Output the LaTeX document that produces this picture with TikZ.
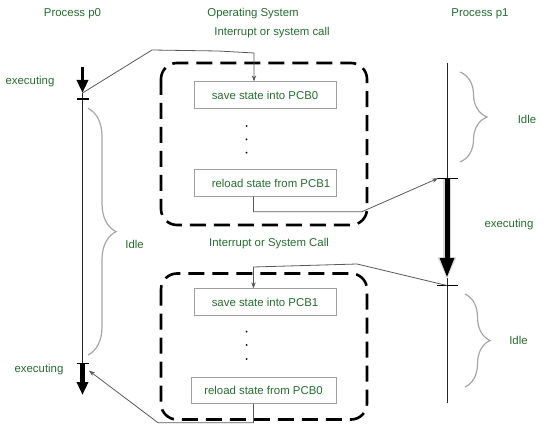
\documentclass[tikz,border=0pt]{standalone}
\usepackage{fontspec}
\setmainfont{Liberation Sans}
\usepackage{tikz}
\usetikzlibrary{arrows.meta,positioning,calc,decorations.pathreplacing}
\definecolor{labelgreen}{RGB}{38,108,48}

\begin{document}
\begin{tikzpicture}[
  x=1pt, y=-1pt,
  lbl/.style={text=labelgreen, inner sep=0pt,
    font=\fontsize{11.4}{13.7}\selectfont},
  state/.style={draw=gray!75, line width=0.8pt, inner sep=0pt,
    minimum width=142pt, minimum height=26.5pt, text=labelgreen,
    font=\fontsize{11.4}{13.7}\selectfont},
  osbox/.style={draw=black, line width=2.6pt, dash pattern=on 16pt off 8pt,
    rounded corners=16pt},
  timeline/.style={draw=black!85, line width=0.9pt},
  tickmark/.style={draw=black, line width=1.2pt},
  run/.style={-{Triangle[length=13pt,width=11pt]}, line width=3.5pt},
  conn/.style={-{Stealth[length=6pt,width=4.5pt]}, draw=black!65, line width=0.8pt},
  idle/.style={decorate, decoration={brace, amplitude=#1}, draw=gray!70, line width=1.2pt}
]
\useasboundingbox (0,0) rectangle (548,427);

% titles
\node[lbl] (ttl0) at (72.5,14) {Process p0};
\node[lbl] (ttlos) at (253,14) {Operating System};
\node[lbl] (ttl1) at (480,14) {Process p1};
\node[lbl] (irq1) at (272,33) {Interrupt or system call};
\node[lbl] (irq2) at (269,244) {Interrupt or System Call};

% operating system blocks
\draw[osbox] (161,63) rectangle (367,225);
\draw[osbox] (161,273.5) rectangle (367,419.5);
\node[state] (save0) at (265,95) {save state into PCB0};
\node[state] (reload1) at (265,183) {\hspace{12pt}reload state from PCB1};
\node[state] (save1) at (265,302) {save state into PCB1};
\node[state, minimum width=145pt] (reload0) at (263.5,390.3) {reload state from PCB0\hspace{15pt}};
\foreach \y in {126,139.3,152.7,331.7,345,359}
  \fill (246.5,\y) circle (1pt);

% process p0
\coordinate (p0top) at (82.5,66.7);
\coordinate (p0int) at (82.5,93);
\coordinate (p0t1) at (82.5,99);
\coordinate (p0t2) at (82.5,363.3);
\coordinate (p0end) at (82.5,395);
\draw[timeline] (p0int) -- (p0t2);
\draw[run] (p0top) -- (p0int);
\draw[run, line width=4.5pt] (p0t2) -- (p0end);
\draw[tickmark] ($(p0t1)+(-6,0)$) -- ($(p0t1)+(6,0)$);
\draw[tickmark] ($(p0t2)+(-6,0)$) -- ($(p0t2)+(6,0)$);
\node[lbl] (exec0a) at (30,81.7) {executing};
\node[lbl] (exec0b) at (39,369.3) {executing};
\draw[idle=28pt] (88,108.3) -- (88,355);
\node[lbl] (idle0) at (134.6,244.3) {Idle};

% process p1
\coordinate (p1top) at (447,63);
\coordinate (p1t1) at (447,178.3);
\coordinate (p1in) at (438,178.3);
\coordinate (p1head) at (447,278);
\coordinate (p1t2) at (447,285.5);
\coordinate (p1end) at (447,403.3);
\draw[timeline] (p1top) -- (p1t1);
\draw[timeline] (p1head) -- (p1end);
\draw[-{Triangle[length=22pt,width=17pt]}, draw=gray!30, line width=8pt]
  ($(p1t1)+(0,1)$) -- ($(p1head)+(0,1.5)$);
\draw[-{Triangle[length=20pt,width=13pt]}, line width=5pt]
  ($(p1t1)+(0,1)$) -- (p1head);
\draw[tickmark] ($(p1t1)+(-10.5,0)$) -- ($(p1t1)+(10.5,0)$);
\draw[tickmark] ($(p1t2)+(-10.5,0)$) -- ($(p1t2)+(10.5,0)$);
\draw[idle=27pt] (460,72) -- (460,162);
\node[lbl] (idle1a) at (527,119) {Idle};
\node[lbl] (exec1) at (509,225) {executing};
\draw[idle=25pt] (465,294) -- (465,387);
\node[lbl] (idle1b) at (518.5,340.7) {Idle};

% context switches
\draw[conn] (p0int) -- (152,50) -- (218,51) -- (254,53) -- (save0.north -| 254,53);
\draw[conn] (reload1.south -| 253.5,0) -- (253.5,211.7) -- (362,211.7) -- (p1in);
\draw[conn] (p1t2) -- (357,264) -- (253.5,267) -- (save1.north -| 253.5,0);
\draw[conn] (reload0.south -| 253.5,0) -- (253.5,422.7) -- (158,422.7) -- (89,370.7);
\end{tikzpicture}
\end{document}
